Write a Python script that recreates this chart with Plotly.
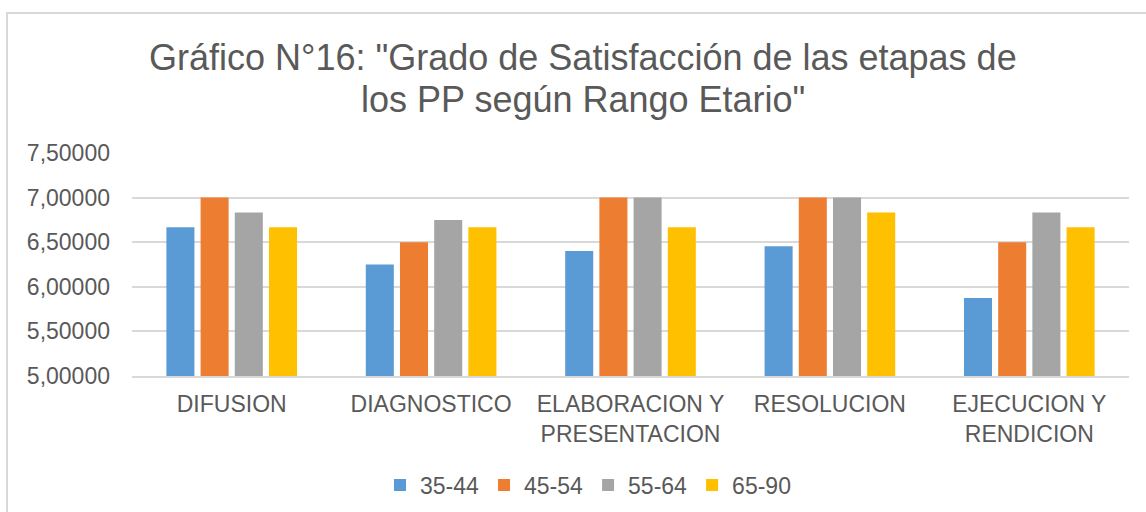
import plotly.graph_objects as go

categories = ["DIFUSION", "DIAGNOSTICO", "ELABORACION Y<br>PRESENTACION", "RESOLUCION", "EJECUCION Y<br>RENDICION"]
series_names = ["35-44", "45-54", "55-64", "65-90"]
v_35_44 = [6.66667, 6.25, 6.4, 6.45455, 5.875]
v_45_54 = [7.0, 6.5, 7.0, 7.0, 6.5]
v_55_64 = [6.83333, 6.75, 7.0, 7.0, 6.83333]
v_65_90 = [6.66667, 6.66667, 6.66667, 6.83333, 6.66667]
colors = ["#5B9BD5", "#ED7D31", "#A5A5A5", "#FFC000"]
y_ticks = [5.0, 5.5, 6.0, 6.5, 7.0, 7.5]
y_tick_text = ["5,00000", "5,50000", "6,00000", "6,50000", "7,00000", "7,50000"]
title_lines = ["Gráfico N°16: \"Grado de Satisfacción de las etapas de", "los PP según Rango Etario\""]

FONT = "Liberation Sans, Arial, sans-serif"
TXT = "#595959"

fig = go.Figure()
for name, vals, col in zip(series_names, [v_35_44, v_45_54, v_55_64, v_65_90], colors):
    fig.add_trace(go.Bar(x=categories, y=vals, name=name, marker=dict(color=col, line=dict(width=0))))

W, H = 1146, 512
L, R, T, B = 132, 17, 153, 136
PW, PH = W - L - R, H - T - B

def px_x(x):
    return (x - L) / PW

def px_y(y):
    return (H - B - y) / PH

fig.update_layout(
    width=W, height=H,
    margin=dict(l=L, r=R, t=T, b=B, autoexpand=False),
    paper_bgcolor="white", plot_bgcolor="white",
    barmode="group", bargap=0.314, bargroupgap=0.18,
    font=dict(family=FONT, color=TXT, size=23),
    showlegend=True,
    legend=dict(orientation="h", xref="container", yref="container",
                x=588 / W, xanchor="center", y=1 - 485 / H, yanchor="middle",
                font=dict(size=23, color=TXT), itemwidth=30, traceorder="normal"),
    xaxis=dict(showgrid=False, showline=True, linecolor="#d9d9d9", linewidth=2,
               ticks="", tickfont=dict(size=23, color=TXT), ticklabelstandoff=6,
               automargin=False),
    yaxis=dict(range=[5, 7.5], tickvals=y_ticks, ticktext=y_tick_text,
               showgrid=True, gridcolor="#d9d9d9", gridwidth=2, zeroline=False,
               showline=False, ticks="", tickfont=dict(size=23, color=TXT),
               ticklabelstandoff=21, automargin=False),
    annotations=[
        dict(text=title_lines[0], xref="paper", yref="paper",
             x=px_x(583), y=px_y(57), xanchor="center", yanchor="middle", showarrow=False,
             font=dict(size=36, color=TXT, family=FONT)),
        dict(text=title_lines[1], xref="paper", yref="paper",
             x=px_x(583), y=px_y(99), xanchor="center", yanchor="middle", showarrow=False,
             font=dict(size=36, color=TXT, family=FONT)),
    ],
    shapes=[
        dict(type="rect", xref="paper", yref="paper",
             x0=px_x(7), x1=1.2, y0=-1.0, y1=px_y(13),
             line=dict(color="#d9d9d9", width=2), fillcolor="rgba(0,0,0,0)", layer="below"),
    ],
)

fig.write_html("out.html", config={"displayModeBar": False},
               post_script="document.body.style.margin='0';")
